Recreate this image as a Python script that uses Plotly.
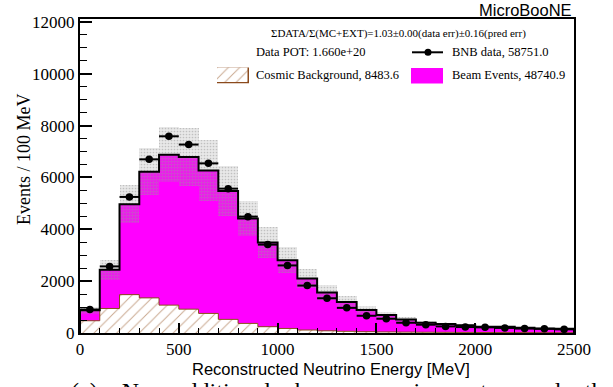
import numpy as np
import plotly.graph_objects as go

# Reconstructed neutrino energy, 100 MeV bins from 0 to 2500 MeV
bin_edges = list(range(0, 2600, 100))
bin_centers = [e + 50 for e in bin_edges[:-1]]

# Stacked prediction (events / 100 MeV)
total_pred = [880, 2440, 4970, 6225, 6880, 6790, 6270, 5480, 4420, 3490,
              2810, 2100, 1565, 1195, 885, 690, 525, 395, 345, 295,
              245, 240, 200, 175, 165]
cosmic_bkg = [473, 946, 1480, 1355, 1075, 920, 755, 525, 370, 243,
              175, 115, 85, 65, 50, 42, 35, 30, 26, 22,
              19, 16, 14, 12, 10]
pred_err = [140, 380, 740, 895, 1070, 1120, 1170, 960, 670, 590,
            490, 360, 290, 237, 165, 125, 92, 68, 58, 50,
            42, 40, 35, 30, 28]

# BNB data
bnb_data = [905, 2570, 5250, 6700, 7590, 7270, 6545, 5570, 4490, 3410,
            2607, 1830, 1340, 970, 665, 550, 395, 320, 255, 230,
            218, 195, 170, 160, 140]

beam_events = [t - c for t, c in zip(total_pred, cosmic_bkg)]
data_stat = list(np.sqrt(bnb_data))

SERIF = "Liberation Serif"
SANS = "Liberation Sans"
HATCH_FG = "#c9a88f"
HATCH_LINE = "#8b4a1c"
MAGENTA = "#ff00ff"

fig = go.Figure()

# Cosmic background (hatched)
fig.add_trace(go.Bar(
    x=bin_centers, y=cosmic_bkg, base=0, width=100,
    marker=dict(color="white", line=dict(width=0),
                pattern=dict(shape="/", fgcolor=HATCH_FG, bgcolor="white",
                             size=8, solidity=0.12, fillmode="replace")),
    showlegend=False, hoverinfo="skip"))

# Beam events stacked on cosmics
fig.add_trace(go.Bar(
    x=bin_centers, y=beam_events, base=cosmic_bkg, width=100,
    marker=dict(color=MAGENTA, line=dict(width=0)),
    showlegend=False, hoverinfo="skip"))

# Cosmic outline
fig.add_trace(go.Scatter(
    x=[0] + bin_edges[1:], y=cosmic_bkg + [cosmic_bkg[-1]], mode="lines", line_shape="hv",
    line=dict(color=HATCH_LINE, width=1), showlegend=False, hoverinfo="skip"))

# Prediction uncertainty band (light stipple)
fig.add_trace(go.Bar(
    x=bin_centers,
    y=[2 * e for e in pred_err],
    base=[t - e for t, e in zip(total_pred, pred_err)],
    width=100,
    marker=dict(color="rgba(150,150,150,0.22)", line=dict(width=0),
                pattern=dict(shape=".", fgcolor="#9a9a9a",
                             size=3, solidity=0.25, fillmode="overlay")),
    showlegend=False, hoverinfo="skip"))

# Total prediction outline
sx = [0] + bin_edges[:-1] + [2500, 2500]
sy = [0] + total_pred + [total_pred[-1], 0]
fig.add_trace(go.Scatter(
    x=sx, y=sy, mode="lines", line_shape="hv",
    line=dict(color="black", width=2), showlegend=False, hoverinfo="skip"))

# Data points
fig.add_trace(go.Scatter(
    x=bin_centers, y=bnb_data, mode="markers",
    marker=dict(color="black", size=7.5, symbol="circle"),
    error_x=dict(type="constant", value=50, thickness=2, width=0, color="black"),
    error_y=dict(type="data", array=data_stat, thickness=2, width=0, color="black"),
    showlegend=False, hoverinfo="skip"))

# Legend swatches drawn on small auxiliary axes
fig.add_trace(go.Bar(
    x=[0], y=[1], base=[0], width=[1], xaxis="x2", yaxis="y2",
    marker=dict(color="white", line=dict(color=HATCH_LINE, width=1.5),
                pattern=dict(shape="/", fgcolor=HATCH_FG, bgcolor="white",
                             size=8, solidity=0.12, fillmode="replace")),
    showlegend=False, hoverinfo="skip"))
fig.add_trace(go.Bar(
    x=[0], y=[1], base=[0], width=[1], xaxis="x3", yaxis="y3",
    marker=dict(color=MAGENTA, line=dict(width=0)),
    showlegend=False, hoverinfo="skip"))

# plot-area pixel geometry -> paper coordinates
L, R, T, B = 80, 574, 19, 333
def px(x):
    return (x - L) / (R - L)
def py(y):
    return (B - y) / (B - T)

hidden = dict(visible=False, fixedrange=True)
fig.update_layout(
    xaxis2=dict(domain=[px(217), px(249)], range=[-0.5, 0.5], anchor="y2", **hidden),
    yaxis2=dict(domain=[py(83.5), py(67.5)], range=[0, 1], anchor="x2", **hidden),
    xaxis3=dict(domain=[px(411), px(443)], range=[-0.5, 0.5], anchor="y3", **hidden),
    yaxis3=dict(domain=[py(83.5), py(67.5)], range=[0, 1], anchor="x3", **hidden),
)

shapes = [
    dict(type="line", xref="paper", yref="paper", x0=px(412), x1=px(443),
         y0=py(52.3), y1=py(52.3), line=dict(color="black", width=2)),
    dict(type="circle", xref="paper", yref="paper", x0=px(424.5), x1=px(431.5),
         y0=py(55.8), y1=py(48.8), fillcolor="black", line=dict(color="black", width=0)),
]

# justified caption: widen the inter-word gaps
gap = "\u00a0" * 4
caption = gap.join(["(a)", "No", "additional", "beam", "requirements,", "and", "the"])

annotations = [
    dict(text="ΣDATA/Σ(MC+EXT)=1.03±0.00(data err)±0.16(pred err)",
         xref="paper", yref="paper", x=px(398), y=py(33), xanchor="center", yanchor="middle",
         showarrow=False, font=dict(family=SERIF, size=11, color="black")),
    dict(text="Data POT: 1.660e+20", xref="paper", yref="paper", x=px(254), y=py(52.3),
         xanchor="left", yanchor="middle", showarrow=False,
         font=dict(family=SERIF, size=12.5, color="black")),
    dict(text="BNB data, 58751.0", xref="paper", yref="paper", x=px(450), y=py(52.3),
         xanchor="left", yanchor="middle", showarrow=False,
         font=dict(family=SERIF, size=12.5, color="black")),
    dict(text="Cosmic Background, 8483.6", xref="paper", yref="paper", x=px(254), y=py(74.5),
         xanchor="left", yanchor="middle", showarrow=False,
         font=dict(family=SERIF, size=12.5, color="black")),
    dict(text="Beam Events, 48740.9", xref="paper", yref="paper", x=px(450), y=py(74.5),
         xanchor="left", yanchor="middle", showarrow=False,
         font=dict(family=SERIF, size=12.5, color="black")),
    dict(text="MicroBooNE", xref="paper", yref="paper", x=px(574), y=py(10.5),
         xanchor="right", yanchor="middle", showarrow=False,
         font=dict(family=SANS, size=16.5, color="black")),
    dict(text="Events / 100 MeV", xref="paper", yref="paper", x=px(24), y=py(160),
         xanchor="center", yanchor="middle", textangle=-90, showarrow=False,
         font=dict(family=SERIF, size=18, color="black")),
    dict(text="Reconstructed Neutrino Energy [MeV]", xref="paper", yref="paper",
         x=px(331), y=py(369), xanchor="center", yanchor="middle", showarrow=False,
         font=dict(family=SANS, size=16.5, color="black")),
    # sub-figure caption running off the bottom edge of the page
    dict(text=caption,
         xref="paper", yref="paper", x=px(69), y=py(376), xanchor="left", yanchor="top",
         showarrow=False, font=dict(family=SERIF, size=24, color="black")),
]

fig.update_layout(
    width=613, height=387,
    margin=dict(l=L, r=613 - R, t=T, b=387 - B),
    paper_bgcolor="white", plot_bgcolor="white",
    barmode="overlay", bargap=0,
    shapes=shapes, annotations=annotations,
    xaxis=dict(range=[0, 2500], tickmode="array",
               tickvals=[0, 500, 1000, 1500, 2000, 2500],
               ticktext=["0", "500", "1000", "1500", "2000", "2500"],
               ticks="inside", ticklen=10, tickwidth=1.5, tickcolor="black",
               minor=dict(dtick=100, ticks="inside", ticklen=5, tickwidth=1.2, tickcolor="black"),
               showline=True, linecolor="black", linewidth=2, mirror=True,
               showgrid=False, zeroline=False,
               tickfont=dict(family=SERIF, size=17, color="black")),
    yaxis=dict(range=[0, 12115], tickmode="array",
               tickvals=[0, 2000, 4000, 6000, 8000, 10000, 12000],
               ticktext=["0", "2000", "4000", "6000", "8000", "10000", "12000"],
               ticks="inside", ticklen=12, tickwidth=1.5, tickcolor="black",
               minor=dict(dtick=500, ticks="inside", ticklen=7, tickwidth=1.2, tickcolor="black"),
               showline=True, linecolor="black", linewidth=2, mirror=True,
               showgrid=False, zeroline=False,
               tickfont=dict(family=SERIF, size=17, color="black")),
)

fig.write_html("out.html")
